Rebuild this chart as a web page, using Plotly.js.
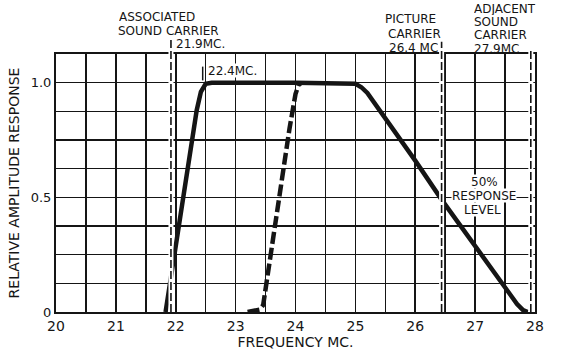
<!DOCTYPE html>
<html>
<head>
<meta charset="utf-8">
<script src="https://cdn.plot.ly/plotly-3.0.1.min.js"></script>
<style>html,body{margin:0;padding:0;background:#fff;}#chart{width:561px;height:351px;}</style>
</head>
<body>
<div id="chart"></div>
<script>
// ---- data ----
const xGridVals = [20, 20.5, 21, 21.5, 22, 22.5, 23, 23.5, 24, 24.5, 25, 25.5, 26, 26.5, 27, 27.5, 28];
const xGridText = ["20", "", "21", "", "22", "", "23", "", "24", "", "25", "", "26", "", "27", "", "28"];
const yGridVals = [0, 0.125, 0.25, 0.375, 0.5, 0.625, 0.75, 0.875, 1.0];
const yGridText = ["0", "", "", "", "0.5", "", "", "", "1.0"];

// solid response curve (frequency MC, relative amplitude)
const solidFreq = [21.83, 21.95, 22.1, 22.25, 22.35, 22.42, 22.5, 22.6, 23.0, 24.0, 25.0, 25.1, 25.2, 25.5, 26.0, 26.44, 27.0, 27.5, 27.7, 27.8, 27.88];
const solidResp = [0, 0.2, 0.46, 0.72, 0.88, 0.96, 0.995, 1.0, 1.0, 1.0, 0.995, 0.98, 0.955, 0.845, 0.66, 0.49, 0.285, 0.1, 0.035, 0.008, 0];

// dashed response curve
const dashFreq = [23.2, 23.3, 23.4, 23.46, 23.5, 23.55, 23.72, 23.9, 24.0, 24.05, 24.1];
const dashResp = [0, 0.003, 0.01, 0.03, 0.1, 0.17, 0.5, 0.8, 0.95, 0.99, 1.0];

// carrier frequencies (vertical dashed markers)
const carrierFreq = [21.92, 26.44, 27.93];
const markFreq = [22.45]; // 22.4 MC marker

const INK = "#151515";
const FONT = "DejaVu Sans";

const traces = [
  {x: solidFreq, y: solidResp, mode: "lines", line: {color: INK, width: 4.5}, hoverinfo: "skip"},
  {x: dashFreq, y: dashResp, mode: "lines", line: {color: INK, width: 4.5, dash: "12px,4px"}, hoverinfo: "skip"}
];

const carrierTops = [1.054, 1.047, 1.023];
const shapes = [];
carrierFreq.forEach((f, i) => {
  shapes.push({type: "line", xref: "x", yref: "paper", x0: f, x1: f, y0: 0, y1: carrierTops[i], layer: "above",
               line: {color: "#fff", width: 5}});
  shapes.push({type: "line", xref: "x", yref: "paper", x0: f, x1: f, y0: 0, y1: carrierTops[i], layer: "above",
               line: {color: INK, width: 1.6, dash: "8px,3px"}});
});
markFreq.forEach(f => {
  shapes.push({type: "line", xref: "x", yref: "y", x0: f, x1: f, y0: 1.01, y1: 1.07, layer: "above",
               line: {color: INK, width: 1.5}});
});

function ann(text, x, y, xanchor, yref, bg) {
  return {text: text, x: x, y: y, xref: "x", yref: yref, xanchor: xanchor, yanchor: "middle",
          showarrow: false, bgcolor: bg ? "#fff" : "rgba(0,0,0,0)", borderpad: 0, height: 13,
          font: {family: FONT, size: 12, color: INK}};
}

const annotations = [
  ann("ASSOCIATED", 21.03, 1.147, "left", "paper"),
  ann("SOUND CARRIER", 21.02, 1.093, "left", "paper"),
  ann("21.9MC.", 21.99, 1.039, "left", "paper"),
  ann("22.4MC.", 22.52, 1.055, "left", "y", true),
  ann("PICTURE", 26.36, 1.136, "right", "paper"),
  ann("CARRIER", 26.44, 1.081, "right", "paper"),
  ann("26.4 MC", 26.40, 1.027, "right", "paper"),
  ann("ADJACENT", 26.96, 1.176, "left", "paper"),
  ann("SOUND", 26.96, 1.125, "left", "paper"),
  ann("CARRIER", 26.96, 1.074, "left", "paper"),
  ann("27.9MC", 26.96, 1.022, "left", "paper"),
  ann("50%", 27.15, 0.571, "center", "y", true),
  ann("RESPONSE", 27.14, 0.510, "center", "y", true),
  ann("LEVEL", 27.12, 0.449, "center", "y", true)
];

const layout = {
  width: 561, height: 351,
  margin: {l: 56, r: 26, t: 54, b: 39},
  paper_bgcolor: "#fff", plot_bgcolor: "#fff",
  showlegend: false,
  font: {family: FONT, color: INK, size: 13},
  xaxis: {
    range: [20, 28], tickvals: xGridVals, ticktext: xGridText, ticks: "",
    showgrid: true, gridcolor: INK, gridwidth: 1.6,
    showline: true, mirror: true, linecolor: INK, linewidth: 2, zeroline: false,
    tickfont: {family: FONT, size: 14, color: INK},
    title: {text: "FREQUENCY MC.", font: {family: FONT, size: 14, color: INK}, standoff: 4}
  },
  yaxis: {
    range: [0, 1.125], tickvals: yGridVals, ticktext: yGridText, ticks: "",
    showgrid: true, gridcolor: INK, gridwidth: 1.6,
    showline: true, mirror: true, linecolor: INK, linewidth: 2, zeroline: false,
    tickfont: {family: FONT, size: 13, color: INK},
    title: {text: "RELATIVE AMPLITUDE RESPONSE", font: {family: FONT, size: 14, color: INK}, standoff: 8}
  },
  shapes: shapes,
  annotations: annotations
};

Plotly.newPlot("chart", traces, layout, {staticPlot: true, displayModeBar: false});
</script>
</body>
</html>
